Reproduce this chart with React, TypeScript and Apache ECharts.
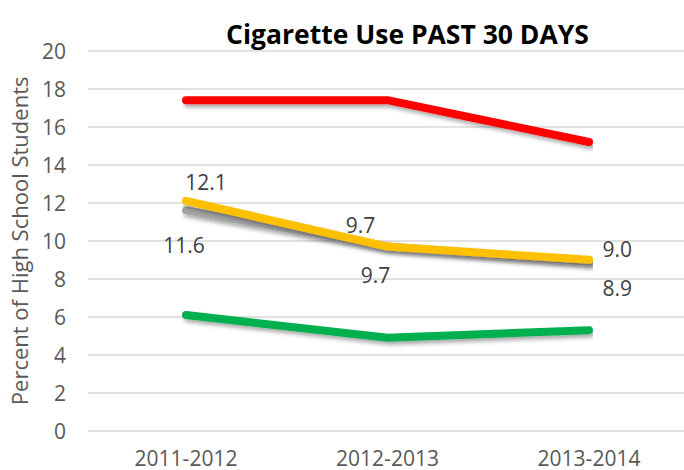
import React, { useEffect, useRef } from "react";
import * as echarts from "echarts";

const categories = ["2011-2012", "2012-2013", "2013-2014"];
const redValues = [17.4, 17.4, 15.2];
const yellowValues = [12.1, 9.7, 9.0];
const grayValues = [11.6, 9.7, 8.9];
const greenValues = [6.1, 4.9, 5.3];
const yTicks = { min: 0, max: 20, interval: 2 };
const titleText = "Cigarette Use PAST 30 DAYS";
const yName = "Percent of High School Students";

const FONT = "'Open Sans', sans-serif";

export default function App() {
  const ref = useRef<HTMLDivElement>(null);
  useEffect(() => {
    if (!ref.current) return;
    const chart = echarts.init(ref.current, null, { renderer: "svg" });
    const shadow = {
      shadowColor: "rgba(0,0,0,0.35)",
      shadowBlur: 4,
      shadowOffsetX: 2,
      shadowOffsetY: 3,
    };
    const labelBase = {
      show: true,
      color: "#404040",
      fontSize: 21,
      fontFamily: FONT,
      formatter: (p: any) => Number(p.value).toFixed(1),
    };
    const yellowLabels = [
      { position: "top", offset: [20, -3] },
      { position: "top", offset: [-27, -6] },
      { position: "right", offset: [8, -11] },
    ];
    const grayLabels = [
      { position: "bottom", offset: [-2, 19] },
      { position: "bottom", offset: [-12, 12] },
      { position: "right", offset: [8, 26] },
    ];
    const mkSeries = (name: string, values: number[], color: string, labels?: any[]) => ({
      name,
      type: "line",
      xAxisIndex: 1,
      yAxisIndex: 1,
      symbol: "circle",
      symbolSize: 1,
      showSymbol: true,
      itemStyle: { color },
      lineStyle: { color, width: 8, cap: "round", join: "round", ...shadow },
      label: labels ? labelBase : { show: false },
      data: values.map((v, i) =>
        labels ? { value: v, label: { ...labelBase, ...labels[i] } } : v
      ),
      z: 3,
    });
    chart.setOption({
      animation: false,
      title: {
        text: titleText,
        left: 221,
        top: 15,
        textStyle: { fontFamily: FONT, fontSize: 26.5, fontWeight: "bold", color: "#000" },
      },
      grid: [
        { left: 83, right: 0, top: 50.7, bottom: 39 },
        { left: 186, right: 95, top: 50.7, bottom: 39 },
      ],
      xAxis: [
        { type: "value", gridIndex: 0, show: false, min: 0, max: 1 },
        {
          type: "category",
          gridIndex: 1,
          data: categories,
          boundaryGap: false,
          axisLine: { show: false },
          axisTick: { show: false },
          splitLine: { show: false },
          axisLabel: { color: "#595959", fontSize: 21, fontFamily: FONT, margin: 16 },
        },
      ],
      yAxis: [
        {
          type: "value",
          gridIndex: 0,
          min: yTicks.min,
          max: yTicks.max,
          interval: yTicks.interval,
          axisLine: { show: false },
          axisTick: { show: false },
          axisLabel: { color: "#595959", fontSize: 21, fontFamily: FONT, margin: 22 },
          splitLine: { lineStyle: { color: "#d9d9d9", width: 1.5 } },
          name: yName,
          nameLocation: "middle",
          nameRotate: 90,
          nameGap: 58,
          nameTextStyle: { color: "#595959", fontSize: 22, fontFamily: FONT },
        },
        {
          type: "value",
          gridIndex: 1,
          min: yTicks.min,
          max: yTicks.max,
          interval: yTicks.interval,
          show: false,
          splitLine: { show: false },
        },
      ],
      series: [
        mkSeries("red", redValues, "#ff0000"),
        mkSeries("gray", grayValues, "#a5a5a5", grayLabels),
        mkSeries("yellow", yellowValues, "#ffc000", yellowLabels),
        mkSeries("green", greenValues, "#00b050"),
      ],
    });
    return () => chart.dispose();
  }, []);
  return (
    <div
      ref={ref}
      style={{ position: "fixed", left: 0, top: 0, width: 684, height: 470, background: "#fff" }}
    />
  );
}
